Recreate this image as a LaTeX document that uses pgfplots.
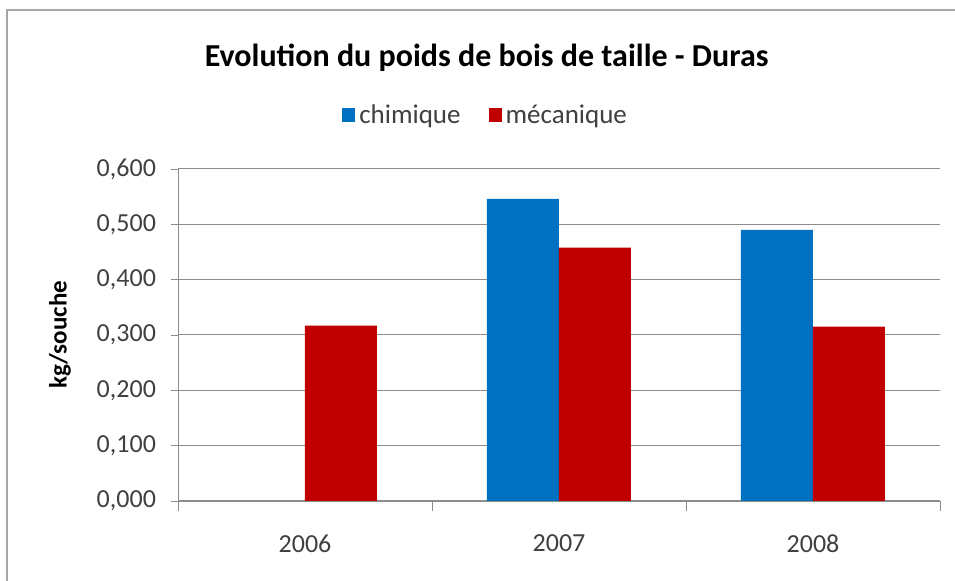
\documentclass[border=0pt]{standalone}
\usepackage{pgfplots}
\pgfplotsset{compat=1.18}
\usepackage{fontspec}
\setmainfont{Carlito}
\definecolor{cblue}{HTML}{0070C0}
\definecolor{cred}{HTML}{C00000}
\definecolor{gridc}{HTML}{8C8C8C}
\definecolor{txt}{HTML}{404040}
\begin{document}
\begin{tikzpicture}
\useasboundingbox (0,0) rectangle (477.5pt,290.5pt);
\fill[white] (0,0) rectangle (477.5pt,290.5pt);
\draw[gray!70, line width=0.8pt] (3.5pt,0) -- (3.5pt,285.5pt) -- (477.5pt,285.5pt);
\begin{axis}[
  at={(89pt,40pt)}, anchor=south west,
  scale only axis, width=381pt, height=166pt,
  ybar=0pt, bar width=36pt,
  xmin=-0.5, xmax=2.5, ymin=0, ymax=0.6,
  xtick={0,1,2}, xticklabels={2006,2007,2008},
  minor xtick={-0.5,0.5,1.5,2.5},
  ytick={0,0.1,0.2,0.3,0.4,0.5,0.6},
  axis lines=left, axis line style={-, gridc},
  tick align=outside,
  x tick style={draw=none},
  minor x tick style={draw=gridc},
  minor tick length=5pt,
  y tick style={draw=gridc},
  major tick length=3.5pt,
  ymajorgrids, grid style={gridc, line width=0.5pt},
  /pgf/number format/fixed,
  /pgf/number format/fixed zerofill,
  /pgf/number format/precision=3,
  /pgf/number format/use comma,
  /pgf/number format/assume math mode=true,
  ticklabel style={font=\fontsize{13}{15}\selectfont, text=txt},
  xticklabel style={yshift=-10pt},
  yticklabel style={xshift=-4pt},
  ylabel={\textbf{kg/souche}},
  ylabel style={at={(axis description cs:-0.155,0.5)}, anchor=center, font=\fontsize{12.5}{14}\selectfont},
  title={\textbf{Evolution du poids de bois de taille - Duras}},
  title style={at={(axis description cs:0.405,1.30)}, anchor=center, font=\fontsize{16}{18}\selectfont},
  legend style={at={(axis description cs:0.405,1.16)}, anchor=center, draw=none, legend columns=2,
    font=\fontsize{13.5}{15}\selectfont, text=txt,
    /tikz/every even column/.append style={column sep=12pt}},
  legend image code/.code={\fill[#1] (0pt,-3pt) rectangle (6.5pt,4pt);},
  legend cell align=left,
]
\addplot[fill=cblue, draw=none] coordinates {(1,0.546) (2,0.490)};
\addplot[fill=cred, draw=none] coordinates {(0,0.317) (1,0.458) (2,0.315)};
\legend{chimique, mécanique}
\end{axis}
\end{tikzpicture}
\end{document}
